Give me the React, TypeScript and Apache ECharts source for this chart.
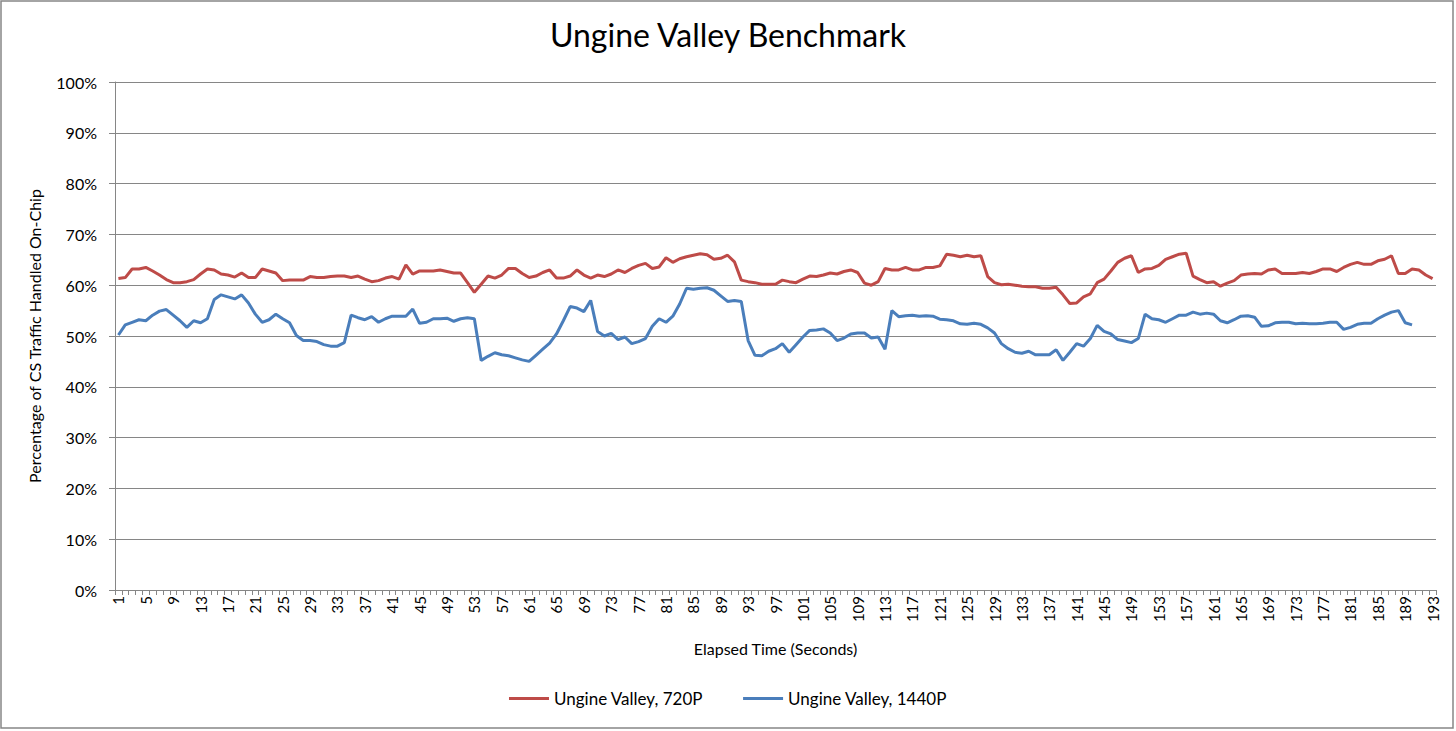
import React, { useEffect, useRef } from "react";
import * as echarts from "echarts";

const categories: string[] = Array.from({ length: 193 }, (_, i) => String(i + 1));

const seriesNames = ["Ungine Valley, 720P", "Ungine Valley, 1440P"];

const red720: number[] = [
  61.3, 61.5, 63.2, 63.2, 63.5, 62.8, 62.0, 61.1, 60.5, 60.5, 60.7, 61.1, 62.2, 63.2, 63.0, 62.2, 62.0, 61.6, 62.4, 61.5, 61.5, 63.2, 62.8, 62.4, 60.9,
  61.0, 61.0, 61.0, 61.7, 61.5, 61.5, 61.7, 61.8, 61.8, 61.5, 61.8, 61.2, 60.7, 60.9, 61.4, 61.7, 61.2, 64.0, 62.2, 62.8, 62.8, 62.8, 63.0, 62.7,
  62.4, 62.4, 60.5, 58.6, 60.2, 61.8, 61.4, 62.0, 63.3, 63.3, 62.3, 61.5, 61.8, 62.5, 63.0, 61.4, 61.4, 61.8, 63.0, 62.0, 61.4, 62.0, 61.7, 62.2,
  63.0, 62.5, 63.3, 63.9, 64.3, 63.3, 63.6, 65.4, 64.5, 65.2, 65.6, 65.9, 66.2, 66.0, 65.1, 65.3, 65.9, 64.6, 61.0, 60.7, 60.5, 60.2, 60.2, 60.2,
  61.0, 60.7, 60.5, 61.2, 61.8, 61.7, 62.0, 62.4, 62.2, 62.7, 63.0, 62.5, 60.4, 60.0, 60.7, 63.3, 63.0, 63.0, 63.5, 63.0, 63.0, 63.5, 63.5, 63.8,
  66.1, 65.9, 65.6, 65.9, 65.6, 65.8, 61.7, 60.5, 60.1, 60.2, 60.0, 59.8, 59.7, 59.7, 59.4, 59.4, 59.6, 58.1, 56.4, 56.5, 57.7, 58.3, 60.5, 61.2,
  62.8, 64.5, 65.3, 65.8, 62.5, 63.2, 63.3, 63.9, 65.1, 65.6, 66.1, 66.3, 61.8, 61.1, 60.5, 60.7, 59.8, 60.4, 60.9, 62.0, 62.2, 62.3, 62.2, 63.0,
  63.2, 62.3, 62.3, 62.3, 62.5, 62.3, 62.7, 63.2, 63.2, 62.7, 63.5, 64.1, 64.5, 64.1, 64.1, 64.8, 65.1, 65.8, 62.3, 62.3, 63.2, 63.0, 62.0, 61.3,
];

const blue1440: number[] = [
  50.2, 52.2, 52.7, 53.2, 53.0, 54.1, 54.9, 55.2, 54.1, 53.0, 51.7, 53.0, 52.6, 53.4, 57.2, 58.1, 57.7, 57.3, 58.1, 56.5, 54.3, 52.7, 53.2, 54.3, 53.4,
  52.6, 50.1, 49.1, 49.1, 48.9, 48.3, 48.0, 48.0, 48.7, 54.1, 53.6, 53.2, 53.8, 52.7, 53.4, 53.9, 53.9, 53.9, 55.3, 52.5, 52.7, 53.4, 53.4, 53.5,
  52.9, 53.4, 53.6, 53.4, 45.2, 46.0, 46.7, 46.3, 46.1, 45.7, 45.3, 45.0, 46.2, 47.4, 48.6, 50.4, 53.0, 55.8, 55.5, 54.8, 57.0, 50.9, 50.0, 50.5,
  49.3, 49.8, 48.5, 48.9, 49.5, 51.9, 53.4, 52.7, 53.9, 56.3, 59.4, 59.2, 59.4, 59.5, 59.0, 57.9, 56.8, 57.0, 56.8, 49.1, 46.2, 46.1, 47.0, 47.5,
  48.5, 46.8, 48.3, 49.8, 51.1, 51.2, 51.4, 50.6, 49.1, 49.6, 50.4, 50.6, 50.6, 49.6, 49.8, 47.4, 55.0, 53.8, 54.0, 54.1, 53.9, 54.0, 53.9, 53.3,
  53.2, 53.0, 52.4, 52.3, 52.5, 52.3, 51.6, 50.6, 48.5, 47.5, 46.8, 46.6, 47.0, 46.3, 46.3, 46.3, 47.3, 45.2, 46.8, 48.5, 48.0, 49.5, 52.1, 50.9,
  50.4, 49.3, 49.0, 48.7, 49.5, 54.3, 53.4, 53.2, 52.7, 53.4, 54.1, 54.1, 54.7, 54.3, 54.5, 54.3, 53.0, 52.6, 53.2, 53.9, 54.0, 53.7, 51.9, 52.0,
  52.6, 52.7, 52.7, 52.4, 52.5, 52.4, 52.4, 52.5, 52.7, 52.7, 51.3, 51.7, 52.3, 52.5, 52.5, 53.4, 54.1, 54.7, 55.0, 52.6, 52.2,
];

const FONT = "Lato, 'Open Sans', sans-serif";
const GRID_COLOR = "#868686";

export default function App() {
  const ref = useRef<HTMLDivElement>(null);

  useEffect(() => {
    if (!ref.current) return;
    const chart = echarts.init(ref.current, undefined, { renderer: "svg" });
    chart.setOption({
      animation: false,
      backgroundColor: "#ffffff",
      textStyle: { fontFamily: FONT },
      title: {
        text: "Ungine Valley Benchmark",
        left: "center",
        top: 13,
        textStyle: { fontFamily: FONT, fontSize: 32, fontWeight: "normal", color: "#000" },
      },
      graphic: [
        {
          type: "rect",
          shape: { x: 1, y: 1, width: 1452, height: 727 },
          style: { fill: "none", stroke: GRID_COLOR, lineWidth: 1.5 },
          silent: true,
        },
      ],
      legend: {
        bottom: 19,
        left: "center",
        itemGap: 40,
        itemWidth: 40,
        itemHeight: 3,
        icon: "rect",
        textStyle: { fontFamily: FONT, fontSize: 17, color: "#000" },
        data: seriesNames,
      },
      grid: { left: 115, right: 20, top: 82, bottom: 141, containLabel: false },
      xAxis: {
        type: "category",
        data: categories,
        boundaryGap: true,
        name: "Elapsed Time (Seconds)",
        nameLocation: "middle",
        nameGap: 50,
        nameTextStyle: { fontFamily: FONT, fontSize: 16, color: "#000" },
        axisLine: { lineStyle: { color: GRID_COLOR, width: 1 } },
        axisTick: { show: true, interval: 0, length: 5, lineStyle: { color: GRID_COLOR } },
        axisLabel: { interval: 3, rotate: 90, fontSize: 15, color: "#000", fontFamily: FONT, margin: 6 },
        splitLine: { show: false },
      },
      yAxis: {
        type: "value",
        min: 0,
        max: 100,
        interval: 10,
        name: "Percentage of CS Traffic Handled On-Chip",
        nameLocation: "middle",
        nameGap: 73,
        nameTextStyle: { fontFamily: FONT, fontSize: 16, color: "#000" },
        axisLine: { show: true, lineStyle: { color: GRID_COLOR, width: 1 } },
        axisTick: { show: true, length: 6, lineStyle: { color: GRID_COLOR } },
        axisLabel: { formatter: "{value}%", fontSize: 16, color: "#000", fontFamily: FONT, margin: 18 },
        splitLine: { show: true, lineStyle: { color: GRID_COLOR, width: 1 } },
      },
      series: [
        {
          name: seriesNames[0],
          type: "line",
          data: red720,
          symbol: "none",
          lineStyle: { color: "#BE4B48", width: 3 },
          itemStyle: { color: "#BE4B48" },
        },
        {
          name: seriesNames[1],
          type: "line",
          data: blue1440,
          symbol: "none",
          lineStyle: { color: "#4A7EBB", width: 3 },
          itemStyle: { color: "#4A7EBB" },
        },
      ],
    });
    return () => chart.dispose();
  }, []);

  return (
    <div
      ref={ref}
      style={{ position: "absolute", left: 0, top: 0, width: 1456, height: 731 }}
    />
  );
}
